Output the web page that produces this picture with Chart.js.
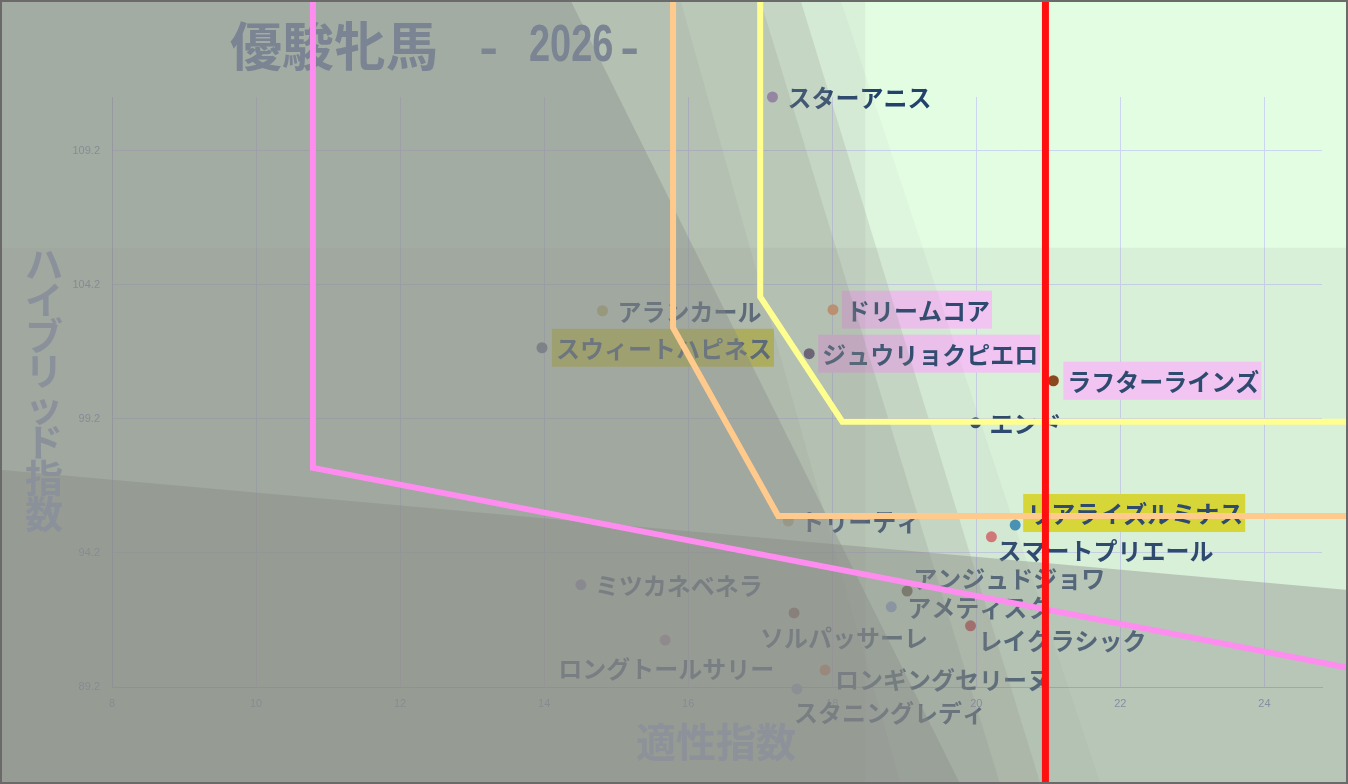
<!DOCTYPE html>
<html lang="ja">
<head>
<meta charset="UTF-8">
<title>優駿牝馬 - 2026 -</title>
<script src="https://cdn.jsdelivr.net/npm/chart.js@4"></script>
<style>
  html, body { margin: 0; padding: 0; background: #e3fde3; overflow: hidden; }
  #wrap { position: relative; width: 1348px; height: 784px; }
</style>
</head>
<body>
<div id="wrap"><canvas id="chart"></canvas></div>
<script>
// 出走馬: 適性指数 (x) / ハイブリッド指数 (y)
const horseNames = ['スターアニス', 'アランカール', 'スウィートハピネス', 'ドリームコア', 'ジュウリョクピエロ',
  'ラフターラインズ', 'エンド', 'トリーティ', 'リアライズルミナス', 'スマートプリエール', 'アンジュドジョワ',
  'アメティスタ', 'ソルパッサーレ', 'レイクラシック', 'ミツカネベネラ', 'ロングトールサリー',
  'ロンギングセリーヌ', 'スタニングレディ'];
const aptitude = [17.17, 14.81, 13.97, 18.01, 17.68, 21.07, 19.99, 17.39, 20.54, 20.21, 19.04,
  18.82, 17.47, 19.92, 14.51, 15.68, 17.90, 17.51];
const hybrid = [111.2, 103.23, 101.85, 103.27, 101.63, 100.62, 99.05, 95.39, 95.24, 94.80, 92.78,
  92.19, 91.96, 91.48, 93.01, 90.95, 89.83, 89.13];
const pointColors = ['#9d84bd', '#c2c25e', '#5b6f86', '#f09a5c', '#4f3d66', '#8b3f10', '#24446a',
  '#c4c08e', '#3f93bb', '#e07676', '#5e5e3a', '#8fb0e0', '#8a4a38', '#c84848', '#8e8ec8',
  '#c08aa8', '#f08440', '#a0a8d8'];

// ラベル位置 (点からのずれ px) と強調枠
const labelDx = [15, 15, 14, 13, 13, 14, 14, 12, 12, 6, 6, 16, -34, 8, 14, -107, 10, -3];
const labelDy = [0, 0, 0, 0, 0, 0, 0, 0, -12, 13, -13, 0, 24, 14, 0, 28, 9, 23];
const labelMark = ['', '', 'yellow', 'pink', 'pink', 'pink', '', '', 'yellow', '', '', '', '', '', '', '', '', ''];
const markColors = { pink: '#ffccff', yellow: '#e1e12d' };

const xTicks = [8, 10, 12, 14, 16, 18, 20, 22, 24];
const yTicks = [89.2, 94.2, 99.2, 104.2, 109.2];

// 境界線
const pinkX = [10.79, 10.79, 25.6];
const pinkY = [115.6, 97.37, 89.69];
const orangeX = [15.79, 15.79, 17.25, 25.6];
const orangeY = [115.6, 102.6, 95.58, 95.58];
const yellowX = [17.0, 17.0, 18.14, 25.6];
const yellowY = [115.6, 103.75, 99.09, 99.09];
const redX = [20.96, 20.96];
const redY = [115.6, 84.8];

// 背景の陰 (データ座標の多角形と濃さ)
const shadeAlpha = [0.12, 0.42, 0.1, 0.06, 0.2, 0.2, 0.1, 0.38];
const shadePolys = [
  [[6.1, 105.58], [25.5, 105.58], [25.5, 84.8], [6.1, 84.8]],
  [[6.1, 97.38], [25.5, 92.74], [25.5, 84.8], [6.1, 84.8]],
  [[6.1, 115.6], [18.46, 115.6], [18.46, 84.8], [6.1, 84.8]],
  [[6.1, 115.6], [18.02, 115.6], [21.82, 84.8], [6.1, 84.8]],
  [[6.1, 115.6], [17.47, 115.6], [20.98, 84.8], [6.1, 84.8]],
  [[6.1, 115.6], [16.91, 115.6], [20.42, 84.8], [6.1, 84.8]],
  [[6.1, 115.6], [15.81, 115.6], [19.03, 84.8], [6.1, 84.8]],
  [[6.1, 115.6], [14.22, 115.6], [19.92, 84.8], [6.1, 84.8]]
];

const pts = (xs, ys) => xs.map((x, i) => ({ x: x, y: ys[i] }));
const JP = '"Noto Sans CJK JP", "Noto Sans CJK SC", sans-serif';
const NARROW = '"Liberation Sans Narrow", "Liberation Sans", sans-serif';

const decor = {
  id: 'decor',
  beforeDraw(chart) {
    const ctx = chart.ctx;
    ctx.save();
    ctx.fillStyle = '#e3fde3';
    ctx.fillRect(0, 0, chart.width, chart.height);
    ctx.restore();
  },
  afterDatasetDraw(chart, args) {
    if (args.index !== 0) return;
    const ctx = chart.ctx;
    const sx = chart.scales.x, sy = chart.scales.y;
    ctx.save();

    // データラベル
    ctx.font = 'bold 24px ' + JP;
    ctx.textBaseline = 'middle';
    ctx.textAlign = 'left';
    args.meta.data.forEach((pt, i) => {
      const tx = pt.x + labelDx[i], ty = pt.y + labelDy[i];
      const w = ctx.measureText(horseNames[i]).width;
      if (labelMark[i]) {
        ctx.fillStyle = markColors[labelMark[i]];
        ctx.fillRect(tx - 4, ty - 19, w + 6, 38);
      }
      ctx.fillStyle = '#22416b';
      ctx.fillText(horseNames[i], tx, ty + 1);
    });

    // 陰
    shadePolys.forEach((poly, k) => {
      ctx.beginPath();
      poly.forEach(([x, y], j) => {
        const px = sx.getPixelForValue(x), py = sy.getPixelForValue(y);
        if (j) ctx.lineTo(px, py); else ctx.moveTo(px, py);
      });
      ctx.closePath();
      ctx.fillStyle = 'rgba(138,140,136,' + shadeAlpha[k] + ')';
      ctx.fill();
    });

    // タイトル
    ctx.fillStyle = '#7b8493';
    ctx.font = 'bold 52px ' + JP;
    ctx.fillText('優駿牝馬', 230, 46);
    ctx.fillText('-', 479, 46);
    ctx.fillText('-', 620, 46);
    ctx.font = 'bold 52px ' + NARROW;
    ctx.save();
    ctx.translate(529, 47);
    ctx.scale(0.73, 1);
    ctx.fillText('2026', 0, 0);
    ctx.restore();

    // 軸タイトル
    ctx.fillStyle = '#8b919b';
    ctx.font = 'bold 38px ' + JP;
    ctx.textAlign = 'center';
    Array.from('ハイブリッド指数').forEach((ch, i) => {
      ctx.fillText(ch, 44, 264 + i * 35.6);
    });
    ctx.fillStyle = '#8d9199';
    ctx.font = 'bold 40px ' + JP;
    ctx.fillText('適性指数', 716, 742);
    ctx.restore();
  },
  afterDraw(chart) {
    const ctx = chart.ctx;
    ctx.save();
    ctx.strokeStyle = '#6a6a6a';
    ctx.lineWidth = 2;
    ctx.strokeRect(1, 1, chart.width - 2, chart.height - 2);
    ctx.restore();
  }
};

const lineSet = (xs, ys, color, width, order) => ({
  data: pts(xs, ys),
  showLine: true,
  borderColor: color,
  borderWidth: width,
  borderJoinStyle: 'miter',
  pointRadius: 0,
  fill: false,
  clip: false,
  order: order
});

const tickFont = { family: NARROW, size: 11 };

new Chart(document.getElementById('chart'), {
  type: 'scatter',
  data: {
    datasets: [
      {
        label: '出走馬',
        data: pts(aptitude, hybrid),
        pointRadius: 5.5,
        pointBackgroundColor: pointColors,
        pointBorderWidth: 0,
        clip: false,
        order: 10
      },
      lineSet(pinkX, pinkY, '#ff8df0', 6, 4),
      lineSet(orangeX, orangeY, '#ffca8c', 6, 3),
      lineSet(yellowX, yellowY, '#ffff90', 6, 2),
      lineSet(redX, redY, '#ff1010', 7, 1)
    ]
  },
  options: {
    responsive: true,
    maintainAspectRatio: false,
    devicePixelRatio: 1,
    animation: false,
    events: [],
    layout: { padding: { top: 97, right: 26, left: 0, bottom: 0 } },
    plugins: { legend: { display: false }, tooltip: { enabled: false }, title: { display: false } },
    scales: {
      x: {
        type: 'linear',
        min: 8,
        max: 24.8,
        afterBuildTicks: s => { s.ticks = xTicks.map(v => ({ value: v })); },
        afterFit: s => { s.height = 97; },
        grid: { color: '#cdd6f0', drawTicks: false },
        border: { color: '#b7c0da' },
        ticks: { padding: 10, color: '#7f90c0', font: tickFont, autoSkip: false, maxRotation: 0, callback: v => v }
      },
      y: {
        type: 'linear',
        min: 89.2,
        max: 111.2,
        afterBuildTicks: s => { s.ticks = yTicks.map(v => ({ value: v })); },
        afterFit: s => { s.width = 112; },
        grid: { color: '#cdd6f0', drawTicks: false },
        border: { color: '#b7c0da' },
        ticks: { padding: 12, color: '#7f90c0', font: tickFont, callback: v => Number(v).toFixed(1) }
      }
    }
  },
  plugins: [decor]
});
</script>
</body>
</html>
